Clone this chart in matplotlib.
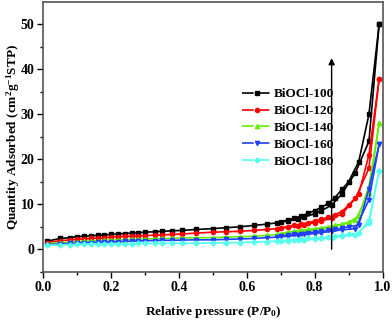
import matplotlib
matplotlib.use("Agg")
import matplotlib.pyplot as plt
from matplotlib.lines import Line2D

plt.rcParams['font.family'] = ['Liberation Serif', 'DejaVu Serif']
plt.rcParams['font.weight'] = 'bold'
plt.rcParams['mathtext.fontset'] = 'custom'
plt.rcParams['mathtext.rm'] = 'Liberation Serif:bold'
plt.rcParams['mathtext.it'] = 'Liberation Serif:bold'
plt.rcParams['mathtext.bf'] = 'Liberation Serif:bold'

labels = ["BiOCl-100", "BiOCl-120", "BiOCl-140", "BiOCl-160", "BiOCl-180"]
colors = ["#000000", "#FF0000", "#66EE00", "#2040FF", "#55FFEE"]
markers = ["s", "o", "^", "v", "D"]

ads_x = [0.01, 0.05, 0.08, 0.10, 0.12, 0.14, 0.16, 0.18, 0.20, 0.22, 0.24, 0.26, 0.28,
         0.30, 0.33, 0.35, 0.38, 0.41, 0.45, 0.50, 0.54, 0.58, 0.62, 0.66, 0.69, 0.72,
         0.75, 0.77, 0.80, 0.82, 0.85, 0.88, 0.92, 0.96, 0.99]
des_x = [0.99, 0.96, 0.93, 0.90, 0.88, 0.86, 0.84, 0.82, 0.80, 0.78, 0.76, 0.74, 0.72, 0.70]

ads_100 = [1.8, 2.4, 2.6, 2.8, 2.9, 3.0, 3.1, 3.2, 3.3, 3.4, 3.5, 3.6, 3.7, 3.8, 3.9, 4.0,
           4.1, 4.2, 4.4, 4.6, 4.8, 5.0, 5.3, 5.6, 5.9, 6.3, 6.8, 7.2, 7.9, 8.6, 9.8, 12.3,
           17.0, 24.0, 50.0]
des_100 = [50.0, 30.0, 19.5, 15.0, 13.3, 11.5, 10.2, 9.3, 8.6, 8.0, 7.4, 6.9, 6.5, 6.1]

ads_120 = [1.5, 1.9, 2.1, 2.2, 2.3, 2.4, 2.5, 2.6, 2.7, 2.8, 2.85, 2.9, 3.0, 3.05, 3.15,
           3.2, 3.3, 3.4, 3.6, 3.8, 3.9, 4.0, 4.2, 4.4, 4.6, 4.9, 5.2, 5.5, 5.9, 6.3, 6.9,
           7.8, 11.3, 18.0, 37.8]
des_120 = [37.8, 21.0, 12.3, 9.8, 8.4, 7.7, 7.1, 6.7, 6.3, 5.9, 5.6, 5.3, 5.0, 4.8]

ads_140 = [1.2, 1.5, 1.6, 1.7, 1.8, 1.85, 1.9, 2.0, 2.05, 2.1, 2.15, 2.2, 2.25, 2.3, 2.35,
           2.4, 2.45, 2.5, 2.55, 2.6, 2.7, 2.8, 2.9, 3.1, 3.3, 3.5, 3.7, 3.9, 4.2, 4.5, 4.9,
           5.5, 6.5, 12.5, 28.0]
des_140 = [28.0, 14.0, 7.4, 6.0, 5.6, 5.3, 5.0, 4.8, 4.6, 4.4, 4.2, 4.0, 3.8, 3.5]

ads_160 = [1.0, 1.2, 1.3, 1.4, 1.45, 1.5, 1.55, 1.6, 1.65, 1.7, 1.75, 1.8, 1.85, 1.9, 1.95,
           2.0, 2.0, 2.05, 2.1, 2.1, 2.2, 2.3, 2.4, 2.6, 2.7, 2.9, 3.1, 3.3, 3.5, 3.7, 4.0,
           4.3, 4.6, 11.0, 23.3]
des_160 = [23.3, 13.5, 5.4, 5.0, 4.7, 4.4, 4.2, 4.0, 3.8, 3.6, 3.4, 3.3, 3.1, 3.0]

ads_180 = [0.9, 1.0, 1.05, 1.1, 1.1, 1.15, 1.15, 1.2, 1.2, 1.2, 1.25, 1.25, 1.3, 1.3, 1.3,
           1.3, 1.35, 1.35, 1.35, 1.4, 1.45, 1.5, 1.6, 1.7, 1.8, 1.9, 2.0, 2.1, 2.3, 2.4,
           2.6, 2.9, 3.2, 5.8, 17.5]
des_180 = [17.5, 6.5, 3.6, 3.3, 3.1, 2.9, 2.7, 2.6, 2.5, 2.4, 2.3, 2.1, 2.0, 1.9]

ads_all = [ads_100, ads_120, ads_140, ads_160, ads_180]
des_all = [des_100, des_120, des_140, des_160, des_180]

fig = plt.figure(figsize=(3.92, 3.22), dpi=100)
ax = fig.add_axes([0.1105, 0.156, 0.867, 0.838])

handles = []
for lab, c, m, ya, yd in zip(labels, colors, markers, ads_all, des_all):
    ms = 2.6 if m in ("s", "D") else 3.0
    ax.plot(ads_x, ya, color=c, marker=m, ms=ms, lw=1.2, mec=c, mfc=c)
    ax.plot(des_x, yd, color=c, marker=m, ms=ms, lw=1.2, mec=c, mfc=c)
    handles.append(Line2D([], [], color=c, marker=m, ms=ms, lw=1.2,
                          linestyle=(0, (7, 2.5))))

ax.annotate("", xy=(0.85, 42.5), xytext=(0.85, 0.0),
            arrowprops=dict(arrowstyle="-|>", color="black", lw=1.0,
                            mutation_scale=9, shrinkA=0, shrinkB=0))

ax.set_xlim(0.0, 1.002)
ax.set_ylim(-5, 55)
ax.set_xticks([0.0, 0.2, 0.4, 0.6, 0.8, 1.0])
ax.set_xticks([0.1, 0.3, 0.5, 0.7, 0.9], minor=True)
ax.set_yticks([0, 10, 20, 30, 40, 50])
ax.set_yticks([-5, 5, 15, 25, 35, 45], minor=True)
ax.xaxis.set_major_formatter(matplotlib.ticker.FormatStrFormatter('%.1f'))
ax.tick_params(which='major', direction='out', length=4, width=1, labelsize=10, pad=2.5)
ax.tick_params(which='minor', direction='out', length=2.5, width=1)
for s in ax.spines.values():
    s.set_color('#555555')
    s.set_linewidth(1.2)

ax.set_xlabel("Relative pressure (P/P$_0$)", fontsize=9.5, fontweight='bold', labelpad=7)
ax.set_ylabel("Quantity Adsorbed (cm$^2$g$^{-1}$STP)", fontsize=9.5, fontweight='bold')
ax.yaxis.set_label_coords(-0.064, 0.5)

leg = ax.legend(handles, labels, loc='upper left', bbox_to_anchor=(0.57, 0.70),
                frameon=False, fontsize=9.5, handlelength=2.2, handletextpad=0.15,
                labelspacing=0.35, borderaxespad=0)

fig.savefig("out.png", dpi=100)
